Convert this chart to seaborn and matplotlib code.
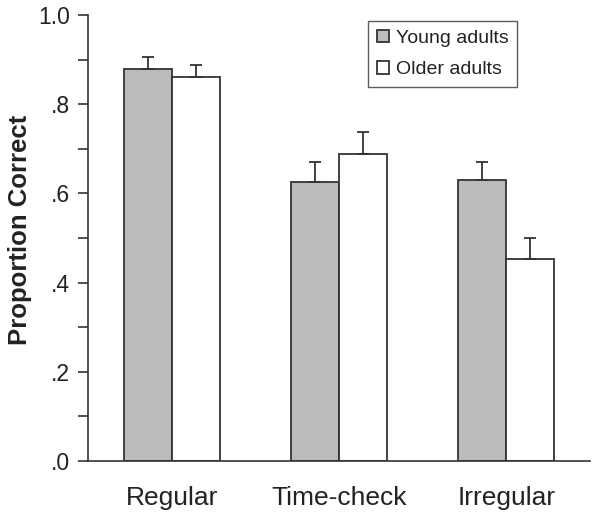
import matplotlib
matplotlib.use("Agg")
import matplotlib.pyplot as plt
import seaborn as sns
import pandas as pd
import numpy as np

conditions = ["Regular", "Time-check", "Irregular"]
groups = ["Young adults", "Older adults"]
young_means = [0.880, 0.626, 0.631]
older_means = [0.862, 0.688, 0.453]
young_err = [0.025, 0.044, 0.039]
older_err = [0.027, 0.050, 0.047]
y_tick_values = [0.0, 0.2, 0.4, 0.6, 0.8, 1.0]
y_tick_labels = [".0", ".2", ".4", ".6", ".8", "1.0"]

df = pd.DataFrame({
    "Condition": conditions * 2,
    "Group": [groups[0]] * 3 + [groups[1]] * 3,
    "Proportion": young_means + older_means,
})
errs = [young_err, older_err]

sns.set_style("white")
plt.rcParams["font.family"] = ["Liberation Sans", "DejaVu Sans"]

fig = plt.figure(figsize=(6.0, 5.18), dpi=100)
ax = fig.add_axes([0.1467, 0.110, 0.8366, 0.861])

dark = "#333333"
sns.barplot(data=df, x="Condition", y="Proportion", hue="Group",
            order=conditions, hue_order=groups,
            palette=["#bbbbbb", "#ffffff"], edgecolor=dark, linewidth=1.3,
            width=0.575, errorbar=None, ax=ax)

for cont, e in zip(ax.containers, errs):
    xs = [p.get_x() + p.get_width() / 2 for p in cont.patches]
    hs = [p.get_height() for p in cont.patches]
    ax.errorbar(xs, hs, yerr=[np.zeros(len(e)), e], fmt="none",
                ecolor=dark, elinewidth=1.3, capsize=4, capthick=1.3, zorder=1)

ax.set_xlim(-0.5, 2.5)
ax.set_ylim(0, 1.0)
ax.set_yticks(y_tick_values)
ax.set_yticklabels(y_tick_labels, fontsize=16.5, color="#222222")
ax.set_yticks(np.arange(0.1, 1.0, 0.2), minor=True)
ax.tick_params(axis="y", which="both", direction="out", length=7, width=1.2,
               color=dark, left=True, pad=6)
ax.tick_params(axis="x", length=0, pad=18, labelsize=19, labelcolor="#222222")

ax.set_xlabel("")
ax.set_ylabel("Proportion Correct", fontsize=18.5, fontweight="bold",
              color="#222222")
ax.yaxis.set_label_coords(-0.112, 0.518)

for s in ["top", "right"]:
    ax.spines[s].set_visible(False)
for s in ["left", "bottom"]:
    ax.spines[s].set_color(dark)
    ax.spines[s].set_linewidth(1.2)

leg = ax.legend(loc="upper left", bbox_to_anchor=(0.558, 0.987), frameon=True,
                fancybox=False, fontsize=14, handlelength=0.62, handleheight=0.6,
                handletextpad=0.35, borderpad=0.45, labelspacing=0.75,
                borderaxespad=0)
leg.get_frame().set_edgecolor(dark)
leg.get_frame().set_linewidth(1.0)
for t in leg.get_texts():
    t.set_color("#222222")

fig.savefig("out.png", dpi=100)
